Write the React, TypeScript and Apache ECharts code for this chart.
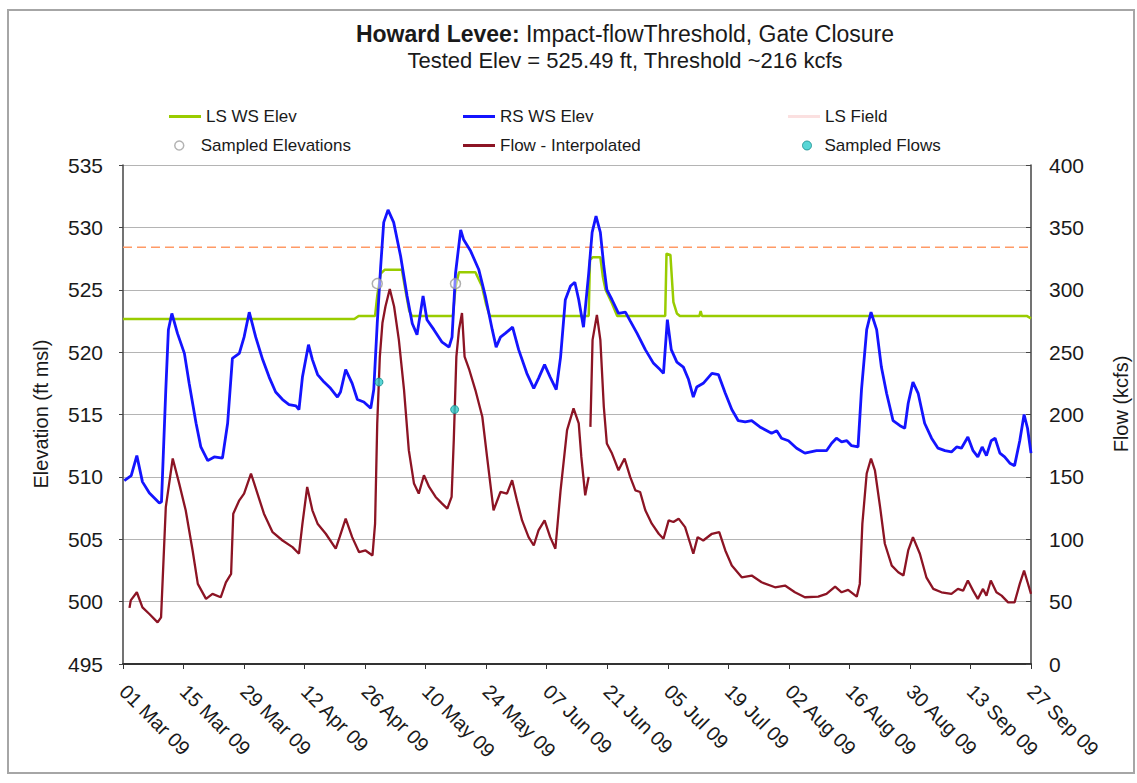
import React, { useEffect, useRef } from 'react';
import * as echarts from 'echarts';

// X positions are day offsets from 01 Mar 2009 (day 0) to 27 Sep 2009 (day 210)
const tickLabels = ['01 Mar 09', '15 Mar 09', '29 Mar 09', '12 Apr 09', '26 Apr 09', '10 May 09', '24 May 09', '07 Jun 09', '21 Jun 09', '05 Jul 09', '19 Jul 09', '02 Aug 09', '16 Aug 09', '30 Aug 09', '13 Sep 09', '27 Sep 09'];

const lsWsElev = [[0, 522.65], [53.5, 522.65], [54.5, 522.9], [58.3, 522.9], [58.8, 524.5], [59.6, 526.3], [60.5, 526.6], [64.5, 526.6], [65.3, 525.0], [66.2, 523.3], [66.8, 522.9], [76.3, 522.9], [76.9, 525.2], [77.7, 526.4], [81.5, 526.4], [83.0, 525.3], [84.0, 523.8], [84.8, 522.9], [107.7, 522.9], [108.0, 527.4], [108.6, 527.6], [110.4, 527.6], [111.0, 526.0], [111.6, 525.0], [113.1, 523.9], [114.3, 522.9], [125.4, 522.9], [125.7, 527.9], [126.6, 527.8], [127.3, 524.0], [128.1, 523.1], [128.8, 522.9], [133.3, 522.9], [133.6, 523.3], [133.9, 522.9], [209.0, 522.9], [210.0, 522.7]];

const rsWsElev = [[0.3, 509.7], [1.9, 510.1], [3.2, 511.7], [4.5, 509.6], [6.1, 508.7], [8.4, 507.9], [8.9, 508.0], [9.9, 517.0], [10.5, 521.8], [11.3, 523.1], [12.6, 521.5], [14.2, 519.9], [15.3, 517.5], [16.9, 514.3], [18.0, 512.4], [19.6, 511.3], [21.1, 511.6], [23.0, 511.5], [24.2, 514.3], [25.3, 519.5], [26.9, 519.9], [28.0, 521.2], [29.2, 523.2], [30.7, 521.2], [32.3, 519.4], [33.8, 518.0], [35.3, 516.8], [36.9, 516.2], [38.4, 515.8], [40.0, 515.7], [40.7, 515.4], [41.5, 518.0], [42.9, 520.6], [43.8, 519.4], [45.0, 518.2], [46.5, 517.6], [48.0, 517.1], [49.6, 516.4], [50.3, 516.8], [51.5, 518.6], [53.0, 517.5], [54.2, 516.2], [55.7, 516.0], [57.3, 515.5], [58.0, 517.0], [58.8, 522.3], [59.6, 526.9], [60.3, 530.4], [61.3, 531.4], [62.6, 530.4], [64.2, 527.7], [65.7, 524.5], [66.9, 522.3], [68.0, 521.4], [69.4, 524.5], [70.3, 522.6], [71.9, 521.8], [73.8, 520.8], [75.4, 520.4], [76.1, 521.2], [76.9, 526.3], [78.1, 529.8], [78.8, 529.0], [80.4, 528.1], [82.3, 526.6], [83.8, 524.5], [85.4, 521.8], [86.3, 520.4], [87.3, 521.2], [88.4, 521.5], [90.1, 522.0], [91.5, 520.2], [93.4, 518.3], [95.0, 517.1], [96.1, 517.9], [97.5, 519.0], [98.8, 518.0], [100.2, 517.0], [101.2, 519.6], [102.3, 524.2], [103.5, 525.3], [104.5, 525.6], [105.4, 524.2], [106.5, 522.0], [107.7, 526.3], [108.5, 529.6], [109.4, 530.9], [110.4, 529.6], [111.2, 526.9], [111.9, 525.0], [113.1, 524.2], [114.6, 523.1], [116.2, 523.2], [117.3, 522.5], [118.9, 521.5], [120.8, 520.2], [122.7, 519.1], [124.2, 518.6], [125.0, 518.3], [125.9, 522.6], [126.8, 520.2], [128.1, 519.2], [129.6, 518.8], [130.8, 517.8], [131.9, 516.4], [132.7, 517.2], [134.2, 517.5], [136.2, 518.3], [137.7, 518.2], [139.3, 516.7], [140.8, 515.4], [142.3, 514.5], [143.9, 514.4], [145.4, 514.5], [147.3, 514.0], [150.0, 513.5], [151.2, 513.7], [152.3, 513.1], [153.9, 512.9], [155.8, 512.3], [157.7, 511.9], [160.4, 512.1], [162.7, 512.1], [163.9, 512.7], [165.0, 513.1], [166.2, 512.8], [167.4, 512.9], [168.5, 512.5], [170.0, 512.4], [170.8, 517.0], [172.0, 521.8], [173.0, 523.2], [174.3, 521.8], [175.4, 518.8], [176.6, 516.7], [178.1, 514.5], [179.7, 514.1], [180.8, 513.9], [181.6, 515.9], [182.7, 517.6], [183.9, 516.7], [185.4, 514.3], [187.0, 513.1], [188.5, 512.3], [190.1, 512.1], [191.6, 512.0], [192.8, 512.4], [193.9, 512.3], [195.4, 513.2], [196.6, 512.1], [197.7, 511.6], [198.7, 512.4], [199.7, 511.7], [200.8, 512.9], [201.7, 513.1], [202.8, 511.9], [203.9, 511.6], [205.1, 511.1], [206.2, 510.9], [207.4, 512.9], [208.4, 515.0], [209.2, 513.9], [210.0, 511.9]];

const lsField = [[0, 528.4], [210, 528.4]];

const sampledElevations = [[58.8, 525.49], [76.9, 525.49]];

const flowInterpolated = [[1.5, 45.0], [1.8, 51.0], [3.2, 57.5], [4.5, 45.4], [6.1, 40.1], [8.0, 33.4], [8.8, 37.4], [9.9, 125.8], [11.5, 164.7], [13.0, 144.6], [14.5, 123.2], [16.1, 91.0], [17.3, 64.2], [19.2, 52.2], [20.7, 56.2], [22.6, 53.5], [23.8, 65.5], [25.0, 72.2], [25.5, 120.5], [26.9, 131.2], [28.0, 136.6], [29.6, 152.7], [31.1, 136.6], [32.6, 120.5], [34.6, 105.7], [36.9, 99.0], [39.2, 93.7], [40.7, 88.4], [41.5, 112.5], [42.6, 141.9], [43.8, 123.2], [45.0, 112.5], [46.9, 104.4], [49.2, 92.4], [50.1, 101.7], [51.5, 116.5], [53.0, 101.7], [54.6, 89.6], [56.1, 91.0], [57.7, 87.0], [58.3, 112.5], [58.8, 192.9], [59.4, 246.4], [60.0, 273.3], [60.7, 286.6], [61.7, 300.6], [62.7, 286.6], [63.8, 259.8], [65.0, 219.6], [66.1, 171.4], [67.3, 144.6], [68.4, 136.6], [69.6, 151.3], [70.8, 141.9], [72.3, 133.9], [73.8, 128.6], [75.0, 124.5], [76.0, 133.9], [76.5, 179.4], [77.1, 246.4], [77.7, 267.9], [78.4, 281.3], [79.0, 246.4], [80.1, 235.7], [81.5, 219.6], [83.1, 198.2], [84.2, 166.0], [85.7, 123.2], [87.3, 137.9], [88.8, 136.6], [90.0, 147.3], [91.1, 131.2], [92.3, 115.1], [93.8, 101.7], [95.0, 95.0], [96.1, 107.1], [97.5, 115.1], [98.8, 101.7], [100.0, 92.4], [101.2, 139.2], [102.7, 187.5], [104.2, 204.9], [105.4, 192.9], [106.0, 166.0], [106.9, 135.2], [107.7, 150.0], [107.9, null], [108.1, 190.1], [108.6, 259.8], [109.6, 279.9], [110.4, 259.8], [111.2, 206.2], [111.9, 176.8], [113.1, 168.7], [114.6, 155.3], [116.0, 164.7], [117.3, 150.0], [118.5, 139.2], [119.6, 137.9], [120.8, 123.2], [122.3, 112.5], [123.9, 104.4], [125.0, 100.4], [126.2, 115.1], [127.3, 113.8], [128.5, 116.5], [130.0, 109.7], [131.2, 96.4], [131.9, 88.4], [132.9, 101.7], [134.2, 99.0], [136.2, 104.4], [137.9, 105.7], [139.3, 91.0], [140.8, 78.9], [143.1, 69.5], [145.4, 70.9], [147.7, 65.5], [150.8, 61.5], [153.1, 62.9], [155.4, 57.5], [157.7, 53.5], [160.8, 54.0], [162.7, 56.2], [164.7, 62.1], [166.2, 57.5], [167.7, 59.4], [169.7, 54.0], [170.4, 64.2], [171.0, 112.5], [172.0, 152.7], [173.0, 164.7], [173.9, 155.3], [175.1, 125.8], [176.2, 96.4], [177.8, 78.9], [179.3, 73.6], [180.5, 70.9], [181.6, 91.0], [182.7, 101.7], [184.3, 88.4], [185.8, 69.5], [187.4, 60.2], [189.3, 57.5], [191.6, 56.2], [193.1, 60.2], [194.3, 58.8], [195.4, 66.9], [196.6, 58.8], [197.7, 52.2], [198.9, 60.2], [199.7, 54.8], [200.7, 66.9], [202.0, 57.5], [203.2, 54.8], [204.7, 49.4], [206.2, 49.4], [207.4, 64.2], [208.4, 74.9], [209.2, 65.5], [210.0, 56.2]];

const sampledFlows = [[59.2, 226], [76.7, 204]];

const FONT = '"Liberation Sans", Arial, sans-serif';
const TXT = '#1a1a1a';

export default function App() {
  const ref = useRef<HTMLDivElement>(null);
  useEffect(() => {
    if (!ref.current) return;
    const chart = echarts.init(ref.current, undefined, { renderer: 'svg' });
    const legendText = { fontFamily: FONT, fontSize: 17, color: TXT };
    const lineLegend = (name: string, left: number, top: number, color: string) => ({
      orient: 'horizontal', left, top, itemWidth: 32, itemHeight: 3, selectedMode: false,
      textStyle: legendText,
      data: [{ name, icon: 'rect', itemStyle: { color, borderWidth: 0 } }],
    });
    const dotLegend = (name: string, left: number, top: number, style: any, pad: number) => ({
      orient: 'horizontal', left, top, itemWidth: 9, itemHeight: 9, selectedMode: false,
      textStyle: { ...legendText, padding: [0, 0, 0, pad] },
      data: [{ name, icon: 'circle', itemStyle: style }],
    });
    chart.setOption({
      animation: false,
      backgroundColor: '#ffffff',
      textStyle: { fontFamily: FONT },
      graphic: [
        { type: 'rect', shape: { x: 8, y: 10, width: 1126, height: 763 }, style: { fill: 'none', stroke: '#a6a6a6', lineWidth: 2 }, silent: true },
        {
          type: 'text', x: 625, y: 34,
          style: {
            text: '{b|Howard Levee:} Impact-flowThreshold, Gate Closure',
            rich: { b: { fontWeight: 'bold', fontSize: 23, fontFamily: FONT, fill: TXT } },
            fontSize: 23, fontFamily: FONT, fill: TXT, textAlign: 'center', textVerticalAlign: 'middle',
          },
        },
        {
          type: 'text', x: 625, y: 60,
          style: { text: 'Tested Elev = 525.49 ft, Threshold ~216 kcfs', fontSize: 22, fontFamily: FONT, fill: TXT, textAlign: 'center', textVerticalAlign: 'middle' },
        },
        {
          type: 'text', x: 41, y: 414, rotation: Math.PI / 2,
          style: { text: 'Elevation (ft msl)', fontSize: 20, fontFamily: FONT, fill: TXT, textAlign: 'center', textVerticalAlign: 'middle' },
        },
        {
          type: 'text', x: 1121, y: 404, rotation: Math.PI / 2,
          style: { text: 'Flow (kcfs)', fontSize: 20, fontFamily: FONT, fill: TXT, textAlign: 'center', textVerticalAlign: 'middle' },
        },
      ],
      legend: [
        lineLegend('LS WS Elev', 164, 103, '#99cc00'),
        lineLegend('RS WS Elev', 458, 103, '#1414ff'),
        lineLegend('LS Field', 783, 103, '#fbe0e0'),
        dotLegend('Sampled Elevations', 169, 132, { color: '#ffffff', borderColor: '#a0a0a0', borderWidth: 1.5 }, 12),
        lineLegend('Flow - Interpolated', 458, 132, '#8c1424'),
        dotLegend('Sampled Flows', 797, 132, { color: '#2ecccc', borderColor: '#138a8a', borderWidth: 1 }, 8),
      ],
      grid: { left: 123, right: 106, top: 165, bottom: 119, show: false },
      xAxis: {
        type: 'value', min: 0, max: 210, interval: 14,
        axisLine: { lineStyle: { color: '#333', width: 2 } },
        axisTick: { show: true, length: 5, lineStyle: { color: '#333' } },
        splitLine: { show: false },
        axisLabel: {
          rotate: -45, margin: 24, fontSize: 20, fontFamily: FONT, color: TXT,
          showMinLabel: true, showMaxLabel: true,
          formatter: (v: number) => tickLabels[Math.round(v / 14)] ?? '',
        },
      },
      yAxis: [
        {
          type: 'value', min: 495, max: 535, interval: 5, position: 'left',
          axisLine: { show: true, lineStyle: { color: '#444', width: 1.5 } },
          axisTick: { show: true, length: 4, lineStyle: { color: '#444' } },
          splitLine: { show: true, lineStyle: { color: '#b4b4b4', width: 1 } },
          axisLabel: { margin: 20, fontSize: 21, fontFamily: FONT, color: TXT },
        },
        {
          type: 'value', min: 0, max: 400, interval: 50, position: 'right',
          axisLine: { show: true, lineStyle: { color: '#444', width: 1.5 } },
          axisTick: { show: true, inside: true, length: 5, lineStyle: { color: '#444' } },
          splitLine: { show: false },
          axisLabel: { margin: 18, fontSize: 21, fontFamily: FONT, color: TXT },
        },
      ],
      series: [
        { name: 'LS WS Elev', type: 'line', yAxisIndex: 0, data: lsWsElev, symbol: 'none', lineStyle: { color: '#99cc00', width: 2.5 }, itemStyle: { color: '#99cc00' }, z: 2 },
        { name: 'RS WS Elev', type: 'line', yAxisIndex: 0, data: rsWsElev, symbol: 'none', lineStyle: { color: '#1414ff', width: 2.8 }, itemStyle: { color: '#1414ff' }, z: 3 },
        { name: 'LS Field', type: 'line', yAxisIndex: 0, data: lsField, symbol: 'none', lineStyle: { color: '#ff9a66', width: 1.5, type: [9, 5] }, itemStyle: { color: '#f9c8c8' }, z: 2 },
        { name: 'Sampled Elevations', type: 'scatter', yAxisIndex: 0, data: sampledElevations, symbol: 'circle', symbolSize: 10, itemStyle: { color: 'rgba(255,255,255,0.6)', borderColor: '#9a9a9a', borderWidth: 1.5 }, z: 4 },
        { name: 'Flow - Interpolated', type: 'line', yAxisIndex: 1, data: flowInterpolated, symbol: 'none', connectNulls: false, lineStyle: { color: '#8c1424', width: 2.3 }, itemStyle: { color: '#8c1424' }, z: 3 },
        { name: 'Sampled Flows', type: 'scatter', yAxisIndex: 1, data: sampledFlows, symbol: 'circle', symbolSize: 8, itemStyle: { color: '#2ecccc', borderColor: '#138a8a', borderWidth: 1 }, z: 5 },
      ],
    });
    return () => chart.dispose();
  }, []);
  return <div ref={ref} style={{ position: 'fixed', left: 0, top: 0, width: 1137, height: 783 }} />;
}
